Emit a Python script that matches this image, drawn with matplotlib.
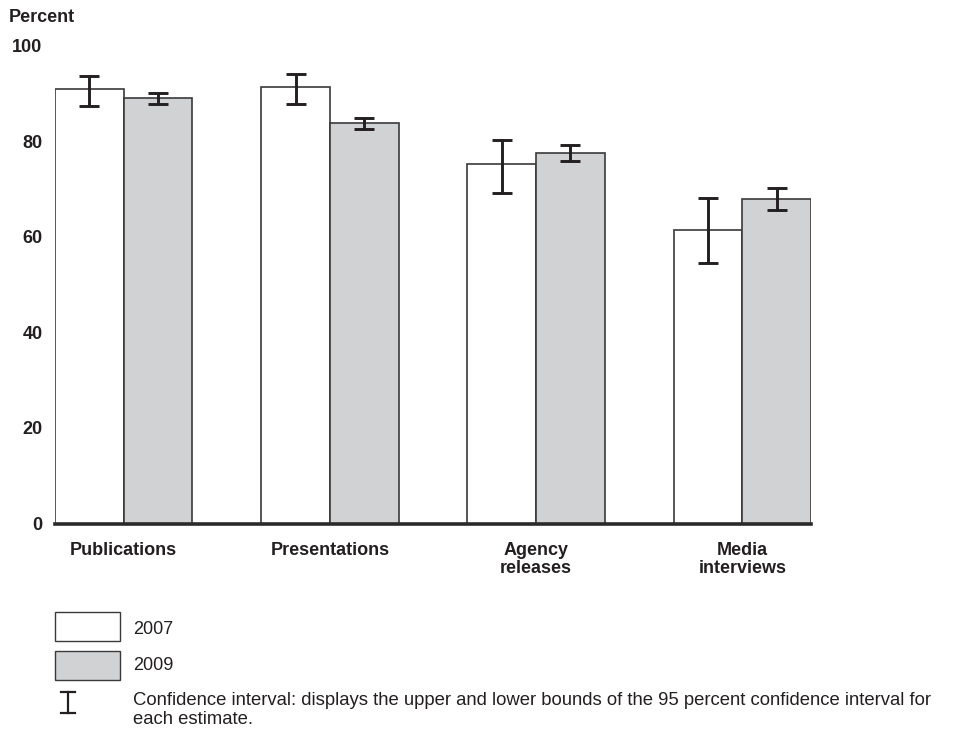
import matplotlib.pyplot as plt
from matplotlib.patches import Rectangle
from matplotlib.lines import Line2D
import numpy as np

plt.rcParams["font.family"] = ["Liberation Sans", "DejaVu Sans"]

categories = ["Publications", "Presentations", "Agency\nreleases", "Media\ninterviews"]

values_2007 = [91.0, 91.3, 75.2, 61.5]
lower_2007 = [87.3, 87.8, 69.2, 54.6]
upper_2007 = [93.6, 94.0, 80.2, 68.1]

values_2009 = [89.1, 83.8, 77.5, 67.9]
lower_2009 = [87.9, 82.5, 75.9, 65.7]
upper_2009 = [90.1, 84.9, 79.2, 70.2]

yticks = [0, 20, 40, 60, 80, 100]

W, H = 956, 735
EDGE = "#3a3a3a"
GREY = "#d1d2d4"
INK = "#231f20"
FS = 13


def px(x, y):
    return (x / W, 1 - y / H)


fig = plt.figure(figsize=(W / 100, H / 100), dpi=100)
ax = fig.add_axes([55 / W, 1 - 523.5 / H, (811 - 55) / W, 477.7 / H])

x = np.arange(len(categories))
width = 1 / 3

ax.bar(x - width / 2, values_2007, width, color="white", edgecolor=EDGE, linewidth=1.2)
ax.bar(x + width / 2, values_2009, width, color=GREY, edgecolor=EDGE, linewidth=1.2)

v7 = np.array(values_2007)
v9 = np.array(values_2009)
err7 = [v7 - np.array(lower_2007), np.array(upper_2007) - v7]
err9 = [v9 - np.array(lower_2009), np.array(upper_2009) - v9]

ax.errorbar(x - width / 2, v7, yerr=err7, fmt="none", ecolor=INK,
            elinewidth=2.1, capsize=7.5, capthick=2.1)
ax.errorbar(x + width / 2, v9, yerr=err9, fmt="none", ecolor=INK,
            elinewidth=2.1, capsize=7.5, capthick=2.1)

ax.set_xlim(-width, len(categories) - 1 + width)
ax.set_ylim(0, 100)

for s in ["top", "right", "left"]:
    ax.spines[s].set_visible(False)
ax.spines["bottom"].set_linewidth(2.6)
ax.spines["bottom"].set_color("#2a2a2a")

ax.set_yticks(yticks)
ax.set_yticklabels([str(t) for t in yticks], fontsize=FS, fontweight="bold",
                   color=INK, va="center_baseline")
ax.tick_params(axis="y", length=0, pad=9)

ax.set_xticks(x)
ax.set_xticklabels(categories, fontsize=FS, fontweight="bold", color=INK,
                   linespacing=1.12, va="top")
ax.tick_params(axis="x", length=0, pad=13)

fig.text(*px(9, 18), "Percent", fontsize=FS, fontweight="bold",
         color=INK, va="center", ha="left")

# legend
fig.add_artist(Rectangle(px(55, 641), 65 / W, 29 / H, transform=fig.transFigure,
                         facecolor="white", edgecolor=EDGE, linewidth=1))
fig.add_artist(Rectangle(px(55, 680), 65 / W, 29 / H, transform=fig.transFigure,
                         facecolor=GREY, edgecolor=EDGE, linewidth=1))
fig.text(*px(133, 629), "2007", fontsize=FS, color=INK, va="center")
fig.text(*px(133, 665), "2009", fontsize=FS, color=INK, va="center")

cx = 68
fig.add_artist(Line2D([cx / W, cx / W], [1 - 692 / H, 1 - 713 / H],
                      transform=fig.transFigure, color=INK, lw=1.6))
for yy in (692, 713):
    fig.add_artist(Line2D([(cx - 7) / W, (cx + 7) / W], [1 - yy / H, 1 - yy / H],
                          transform=fig.transFigure, color=INK, lw=1.6))
fig.text(*px(133, 710), "Confidence interval: displays the upper and lower bounds "
         "of the 95 percent confidence interval for\neach estimate.",
         fontsize=FS + 0.3, color=INK, va="center", linespacing=1.1)

fig.savefig("out.png", dpi=100)
